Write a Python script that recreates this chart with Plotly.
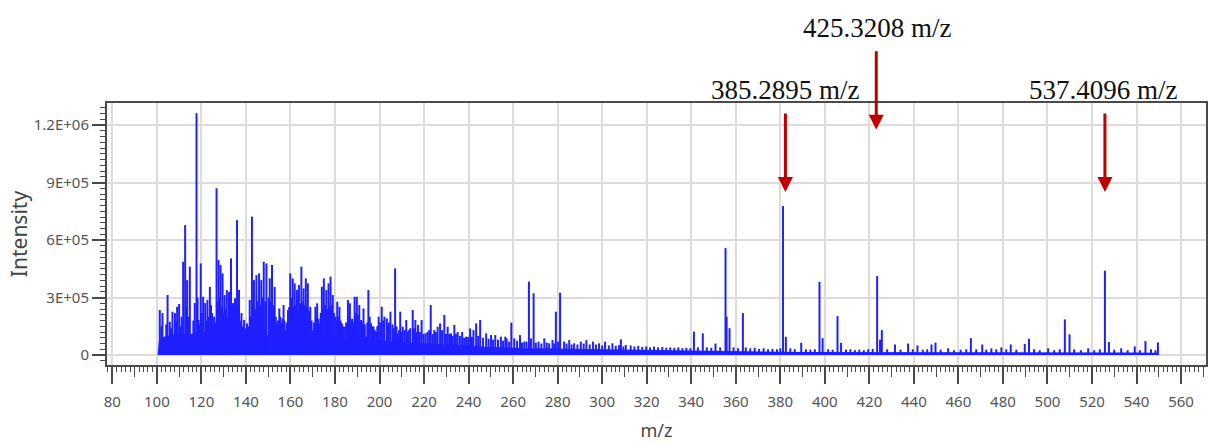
import plotly.graph_objects as go

# ---------------- data ----------------
y_tickvals = [0, 300000, 600000, 900000, 1200000]
y_ticktext = ["0", "3E+05", "6E+05", "9E+05", "1.2E+06"]

# dense low-level ion envelope (m/z, intensity in thousands)
env_mz = [100.3, 101, 105, 110, 115, 120, 125, 130, 135, 140, 145, 150, 155, 160, 165, 170, 175, 180,
          185, 190, 195, 200, 205, 210, 215, 220, 225, 230, 235, 240, 245, 250, 255, 260, 265, 270,
          275, 280, 285, 290, 295, 300, 310, 320, 330, 340, 350, 360, 370, 380, 390, 400, 420, 440,
          460, 480, 500, 520, 540, 549.4, 549.8]
env_int_k = [0, 85, 100, 115, 110, 120, 115, 120, 110, 115, 110, 105, 110, 105, 100, 100, 95, 95,
             88, 85, 80, 78, 72, 68, 64, 60, 57, 54, 51, 48, 45, 42, 40, 38, 36, 35,
             34, 33, 32, 31, 30, 29, 27, 26, 25, 24, 22, 20, 18, 17, 16, 16, 15, 15,
             14, 14, 14, 13, 13, 12, 0]

# resolved peaks, m/z 100-150
mz_a = [101.3, 102.0, 102.5, 103.6, 104.2, 104.8, 105.8, 106.4, 107.0, 108.1, 108.6, 109.1, 110.0, 110.6,
        111.1, 111.8, 112.7, 113.1, 113.6, 114.2, 114.8, 115.8, 116.4, 117.0, 117.8, 118.3, 118.7, 119.2,
        119.7, 120.2, 120.8, 121.7, 122.2, 122.7, 123.2, 123.8, 124.3, 124.8, 125.2, 125.7, 126.2, 126.8,
        127.2, 127.7, 128.1, 128.6, 129.0, 129.5, 130.0, 130.4, 130.9, 131.4, 131.9, 132.4, 132.9, 133.3,
        133.8, 134.2, 134.7, 135.1, 135.6, 136.0, 136.5, 136.9, 137.5, 138.0, 138.6, 139.2, 139.8, 140.5,
        141.1, 141.7, 142.2, 142.7, 143.2, 143.6, 144.2, 144.7, 145.3, 145.9, 146.4, 146.9, 147.5, 148.0,
        148.6, 149.2]
int_a_k = [235, 150, 219, 96, 160, 313, 174, 140, 226, 219, 180, 252, 266, 150,
           200, 487, 678, 250, 391, 200, 461, 96, 180, 271, 1262, 300, 183, 160,
           478, 220, 304, 271, 180, 287, 200, 356, 260, 219, 150, 200, 170, 870,
           280, 496, 300, 470, 250, 426, 220, 313, 240, 339, 200, 330, 260, 504,
           220, 271, 200, 296, 240, 704, 260, 340, 180, 219, 150, 183, 140, 165,
           150, 287, 200, 722, 260, 391, 240, 417, 280, 426, 260, 391, 300, 487,
           280, 478]

# m/z 150-201
mz_b = [150.2, 150.7, 151.2, 151.7, 152.3, 152.9, 153.4, 153.9, 154.4, 155.0, 155.4, 155.9, 156.4, 156.9,
        157.3, 157.8, 158.3, 158.9, 159.4, 159.9, 160.4, 161.0, 161.4, 161.9, 162.4, 162.9, 163.3, 163.8,
        164.3, 164.9, 165.4, 165.9, 166.4, 166.9, 167.3, 167.8, 168.3, 168.9, 169.5, 170.1, 170.6, 171.2,
        171.6, 172.0, 172.6, 173.1, 173.6, 174.1, 174.6, 175.0, 175.5, 176.1, 176.6, 177.1, 177.6, 178.0,
        178.5, 179.0, 179.5, 180.1, 180.6, 181.0, 181.5, 182.0, 182.5, 183.1, 183.7, 184.3, 185.0, 185.8,
        186.2, 186.7, 187.2, 187.7, 188.2, 188.8, 189.3, 189.8, 190.3, 190.9, 191.3, 191.8, 192.3, 192.8,
        193.4, 194.0, 194.5, 195.0, 195.6, 196.2, 196.8, 197.3, 197.9, 198.5, 199.0, 199.6, 200.3, 201.0]
int_b_k = [300, 400, 280, 470, 260, 356, 200, 165, 180, 243, 200, 165, 190, 261,
           180, 130, 170, 235, 250, 426, 300, 400, 250, 374, 260, 339, 240, 365,
           270, 461, 280, 348, 260, 400, 250, 374, 230, 252, 180, 130, 170, 252,
           200, 270, 190, 165, 220, 356, 240, 400, 260, 339, 240, 374, 250, 409,
           260, 313, 220, 200, 180, 278, 200, 252, 180, 165, 150, 148, 170, 287,
           200, 270, 180, 190, 170, 304, 220, 304, 210, 261, 180, 183, 170, 243,
           160, 96, 170, 339, 200, 165, 150, 148, 130, 120, 150, 200, 170, 252]

# m/z 201-257
mz_c = [201.7, 202.2, 203.3, 203.8, 204.2, 204.9, 205.8, 206.4, 207.0, 207.6, 208.2, 208.8, 209.3, 209.9,
        210.4, 211.2, 212.0, 212.6, 213.1, 213.8, 214.9, 215.5, 216.1, 216.7, 217.3, 218.1, 218.9, 219.7,
        220.6, 221.5, 222.3, 223.0, 223.8, 224.6, 225.3, 226.1, 227.2, 228.1, 229.1, 229.8, 230.6, 231.3,
        232.1, 232.8, 233.6, 234.3, 235.1, 236.1, 237.1, 238.0, 238.9, 239.8, 240.7, 241.5, 242.2, 243.4,
        244.3, 245.2, 246.5, 247.9, 249.0, 250.1, 251.0, 252.0, 253.2, 254.5, 255.5, 256.5]
int_c_k = [180, 200, 191, 150, 170, 226, 160, 140, 452, 150, 113, 130, 226, 120,
           148, 130, 183, 120, 130, 140, 235, 140, 183, 120, 157, 120, 183, 110,
           113, 120, 130, 261, 110, 130, 120, 148, 165, 130, 209, 110, 148, 110,
           113, 100, 157, 110, 120, 100, 120, 90, 96, 95, 139, 95, 130, 165,
           100, 183, 90, 113, 85, 104, 80, 104, 80, 96, 75, 96]

# m/z 257-311
mz_d = [257.1, 258.2, 259.2, 260.5, 261.8, 263.1, 264.0, 265.0, 266.0, 267.1, 268.0, 269.2, 270.2, 271.4,
        272.7, 274.0, 275.1, 276.2, 277.7, 278.5, 279.2, 280.2, 281.1, 282.9, 284.0, 285.2, 286.3, 287.4,
        288.9, 290.4, 291.7, 292.9, 294.4, 295.9, 297.2, 298.6, 300.0, 301.3, 303.0, 304.6, 306.1, 307.6,
        308.4, 309.5, 310.6]
int_d_k = [87, 70, 169, 87, 75, 104, 65, 70, 70, 383, 87, 322, 65, 70,
           60, 87, 65, 61, 78, 60, 226, 70, 325, 70, 60, 78, 55, 61,
           55, 70, 60, 78, 55, 70, 55, 61, 50, 70, 50, 61, 48, 52,
           82, 45, 52]

# m/z 311-550
mz_e = [312.8, 314.5, 316.2, 318.0, 319.8, 321.5, 323.3, 325.1, 327.0, 328.8, 330.6, 332.4, 334.2, 336.0,
        337.8, 339.6, 341.2, 343.0, 345.2, 347.0, 349.0, 350.9, 353.0, 355.4, 355.9, 357.2, 359.0, 361.0,
        363.2, 364.5, 366.5, 368.5, 370.5, 372.5, 374.5, 376.5, 378.5, 380.0, 381.2, 382.5, 384.5, 386.5,
        389.4, 391.5, 393.5, 395.5, 397.6, 399.0, 401.5, 403.5, 405.7, 407.3, 409.5, 411.5, 413.5, 415.5,
        417.5, 419.5, 421.5, 423.5, 424.8, 425.6, 428.0, 431.5, 434.0, 437.4, 439.5, 441.6, 444.0, 446.0,
        447.9, 449.7, 452.0, 455.4, 458.0, 461.0, 463.5, 465.6, 468.0, 470.7, 472.5, 474.8, 477.0, 479.3,
        481.5, 483.5, 486.0, 489.8, 491.7, 494.0, 496.5, 500.3, 503.0, 505.5, 507.8, 509.9, 512.0, 515.0,
        518.3, 521.0, 523.5, 525.8, 527.6, 530.0, 533.1, 536.0, 539.2, 541.5, 544.0, 546.5, 548.5, 549.6]
int_e_k = [50, 45, 48, 42, 45, 40, 44, 40, 42, 38, 40, 38, 40, 36,
           38, 36, 122, 40, 113, 40, 38, 60, 40, 558, 200, 140, 40, 35,
           219, 40, 35, 38, 32, 35, 30, 32, 30, 35, 777, 95, 35, 30,
           64, 30, 28, 30, 382, 88, 30, 28, 203, 64, 28, 30, 25, 28,
           25, 30, 32, 412, 80, 130, 30, 55, 28, 60, 30, 50, 28, 30,
           55, 65, 28, 35, 25, 28, 30, 88, 30, 55, 28, 35, 30, 40,
           30, 55, 28, 58, 85, 30, 25, 35, 25, 30, 186, 108, 30, 25,
           35, 25, 30, 440, 68, 28, 35, 25, 45, 25, 73, 30, 25, 66]

# annotations
label_text = ["425.3208 m/z", "385.2895 m/z", "537.4096 m/z"]
label_x = [423.5, 382.5, 525.0]          # m/z position of label centre
label_y = [1.286, 1.05, 1.05]            # paper coordinates
arrow_x = [423.1, 382.3, 525.8]          # m/z position of arrow tip
arrow_y = [0.898, 0.66, 0.66]            # paper coordinates of arrow tip

# ---------------- figure ----------------
peak_mz = mz_a + mz_b + mz_c + mz_d + mz_e
peak_int = [v * 1000 for v in (int_a_k + int_b_k + int_c_k + int_d_k + int_e_k)]
env_int = [v * 1000 for v in env_int_k]

stick_x, stick_y = [], []
for m, h in zip(peak_mz, peak_int):
    stick_x += [m, m, None]
    stick_y += [0, h, None]

BLUE = "#1f1fff"
fig = go.Figure()
fig.add_trace(go.Scatter(x=env_mz, y=env_int, mode="lines", fill="tozeroy",
                         line=dict(width=0, color=BLUE), fillcolor=BLUE,
                         hoverinfo="skip", showlegend=False))
fig.add_trace(go.Scatter(x=stick_x, y=stick_y, mode="lines",
                         line=dict(width=2.0, color=BLUE),
                         showlegend=False, hoverinfo="skip"))
# invisible trace to host the mid-tick overlay axis
fig.add_trace(go.Scatter(x=[300], y=[None], xaxis="x2", mode="markers",
                         showlegend=False, hoverinfo="skip"))

x_range = [77.6, 571.2]
y_range = [-52000, 1315000]
tick_font = dict(family="Noto Sans", size=15, color="#555555")
AX = "#4a4a4a"

fig.update_layout(
    width=1212, height=445,
    margin=dict(l=107, r=4, t=103, b=80),
    paper_bgcolor="white", plot_bgcolor="white",
    xaxis=dict(range=x_range, dtick=20, tick0=0, ticks="outside", ticklen=17, tickwidth=1.5,
               tickcolor=AX, showline=True, linecolor=AX, linewidth=2, mirror=True,
               showgrid=True, gridcolor="#dcdcdc", gridwidth=1.5, zeroline=False,
               tickfont=tick_font, ticklabelstandoff=5,
               minor=dict(dtick=2, tick0=0, ticks="outside", ticklen=5, tickcolor=AX,
                          tickwidth=1, showgrid=False),
               title=dict(text="m/z", font=dict(family="Noto Sans", size=18, color="#444444"),
                          standoff=14)),
    xaxis2=dict(range=x_range, overlaying="x", anchor="y", side="bottom", dtick=10, tick0=0,
                ticks="outside", ticklen=11, tickwidth=1.2, tickcolor=AX,
                showticklabels=False, showgrid=False, showline=False, zeroline=False),
    yaxis=dict(range=y_range, tickvals=y_tickvals, ticktext=y_ticktext, ticks="outside",
               ticklen=13, tickwidth=1.5, tickcolor=AX, showline=True, linecolor=AX,
               linewidth=2, mirror=True, showgrid=True, gridcolor="#dcdcdc", gridwidth=1.5,
               zeroline=False, tickfont=tick_font,
               minor=dict(dtick=30000, tick0=0, ticks="outside", ticklen=5, tickcolor=AX,
                          tickwidth=1, showgrid=False),
               title=dict(text="Intensity", font=dict(family="Noto Sans", size=21, color="#444444"),
                          standoff=0)),
)

RED = "#c00000"
for t, lx, ly in zip(label_text, label_x, label_y):
    fig.add_annotation(x=lx, y=ly, xref="x", yref="paper", text=t, showarrow=False,
                       font=dict(family="Liberation Serif", size=27, color="#111111"),
                       xanchor="center", yanchor="middle")
for ax_, ay_ in zip(arrow_x, arrow_y):
    fig.add_annotation(x=ax_, y=ay_, xref="x", yref="paper", text="", showarrow=True,
                       ax=0, ay=-80, arrowhead=2, arrowsize=1, arrowwidth=3,
                       arrowcolor=RED, standoff=0)

fig.write_html("out.html")
